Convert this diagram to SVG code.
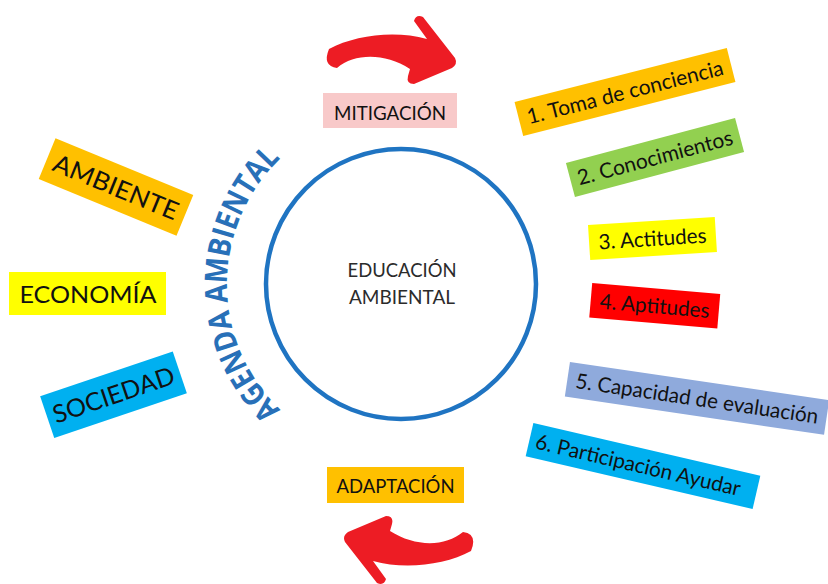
<svg xmlns="http://www.w3.org/2000/svg" width="828" height="584" viewBox="0 0 828 584">
<style>
.lbl{font-family:Lato,"Open Sans","Liberation Sans",sans-serif;fill:#111;text-anchor:middle}
.ctr{font-family:Lato,"Open Sans","Liberation Sans",sans-serif;fill:#2b2b2b;text-anchor:middle;font-size:18.5px}
.agenda{font-family:"Open Sans",Lato,"Liberation Sans",sans-serif;font-weight:bold;fill:#2870b8;font-size:31px}
.arrow{fill:#ed1c24}
</style>
<defs>
<path id="agendaArc" d="M314,434.7 A174,174 0 0 1 314,133.3"/>
<path id="redArrow" d="M329,49 C355,35 395,30 427,39 L414,21 Q416,14 423,17 L455,58 Q458,64 452,68 L414,84 Q406,84 408,76 L410,69 C385,53 355,53 337,68 Q322,66 329,49 Z"/>
</defs>
<rect width="828" height="584" fill="#ffffff"/>

<g id="connectors">
  <use href="#redArrow" class="arrow"/>
  <use href="#redArrow" class="arrow" transform="rotate(180 400 300)"/>
</g>

<g id="educacion-ambiental">
  <circle cx="401" cy="284" r="135" fill="none" stroke="#1f74c2" stroke-width="4.5"/>
  <text class="ctr" x="402" y="277" textLength="109" lengthAdjust="spacingAndGlyphs">EDUCACIÓN</text>
  <text class="ctr" x="402" y="303.5" textLength="106" lengthAdjust="spacingAndGlyphs">AMBIENTAL</text>
</g>

<g id="agenda-ambiental">
  <text class="agenda"><textPath href="#agendaArc" startOffset="50%" text-anchor="middle" textLength="281" lengthAdjust="spacingAndGlyphs">AGENDA AMBIENTAL</textPath></text>
</g>

<g id="mitigacion">
  <rect x="323" y="93" width="134" height="35" fill="#f8c9c9"/>
  <text class="lbl" x="390" y="120" font-size="18.5" textLength="112" lengthAdjust="spacingAndGlyphs">MITIGACIÓN</text>
</g>

<g id="adaptacion">
  <rect x="327" y="467" width="137" height="36" fill="#ffc000"/>
  <text class="lbl" x="395.5" y="493" font-size="19" textLength="118" lengthAdjust="spacingAndGlyphs">ADAPTACIÓN</text>
</g>

<g id="ambiente" transform="translate(116,187) rotate(22.4)">
  <rect x="-74.5" y="-22" width="149" height="44" fill="#ffc000"/>
  <text class="lbl" x="0" y="9" font-size="25" textLength="133" lengthAdjust="spacingAndGlyphs">AMBIENTE</text>
</g>

<g id="economia">
  <rect x="9" y="272" width="157" height="43" fill="#ffff00"/>
  <text class="lbl" x="88" y="303" font-size="23" textLength="137" lengthAdjust="spacingAndGlyphs">ECONOMÍA</text>
</g>

<g id="sociedad" transform="translate(113.5,394.75) rotate(-18.7)">
  <rect x="-70" y="-22" width="140" height="44" fill="#00b0f0"/>
  <text class="lbl" x="0" y="9" font-size="25" textLength="127" lengthAdjust="spacingAndGlyphs">SOCIEDAD</text>
</g>

<g id="item1" transform="translate(625,92) rotate(-14.3)">
  <rect x="-109.5" y="-17.5" width="219" height="35" fill="#ffc000"/>
  <text class="lbl" x="0" y="7.5" font-size="21" textLength="202" lengthAdjust="spacingAndGlyphs">1. Toma de conciencia</text>
</g>

<g id="item2" transform="translate(655,157.5) rotate(-14.9)">
  <rect x="-87.5" y="-17.5" width="175" height="35" fill="#92d050"/>
  <text class="lbl" x="0" y="7.5" font-size="21" textLength="160" lengthAdjust="spacingAndGlyphs">2. Conocimientos</text>
</g>

<g id="item3" transform="translate(652.5,238.5) rotate(-3.6)">
  <rect x="-63.5" y="-17.5" width="127" height="35" fill="#ffff00"/>
  <text class="lbl" x="0" y="7.5" font-size="21" textLength="108" lengthAdjust="spacingAndGlyphs">3. Actitudes</text>
</g>

<g id="item4" transform="translate(654.75,305.75) rotate(4.9)">
  <rect x="-64.25" y="-17.25" width="128.5" height="34.5" fill="#ff0000"/>
  <text class="lbl" x="0" y="7.5" font-size="21" textLength="110" lengthAdjust="spacingAndGlyphs">4. Aptitudes</text>
</g>

<g id="item5" transform="translate(697,398.4) rotate(8.4)">
  <rect x="-131" y="-17.5" width="262" height="35" fill="#8faadc"/>
  <text class="lbl" x="0" y="7.5" font-size="21" textLength="245" lengthAdjust="spacingAndGlyphs">5. Capacidad de evaluación</text>
</g>

<g id="item6" transform="translate(643,466) rotate(13.1)">
  <rect x="-116.5" y="-17" width="233" height="34" fill="#00b0f0"/>
  <text class="lbl" x="-5" y="7.5" font-size="21" textLength="210" lengthAdjust="spacingAndGlyphs">6. Participación Ayudar</text>
</g>
</svg>
